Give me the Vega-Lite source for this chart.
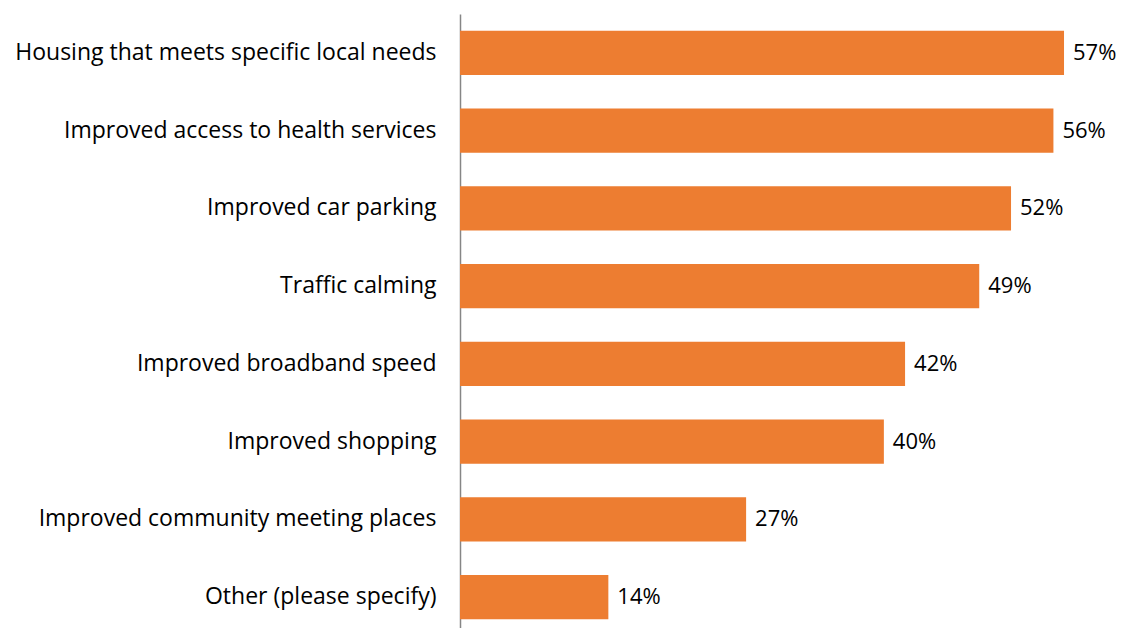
{
  "$schema": "https://vega.github.io/schema/vega-lite/v6.json",
  "autosize": {"type": "none"},
  "padding": {"left": 460, "top": 14, "right": 0, "bottom": 0},
  "width": 657,
  "height": 622,
  "background": "white",
  "data": {"values": [
    {"category": "Housing that meets specific local needs", "value": 0.57},
    {"category": "Improved access to health services", "value": 0.56},
    {"category": "Improved car parking", "value": 0.52},
    {"category": "Traffic calming", "value": 0.49},
    {"category": "Improved broadband speed", "value": 0.42},
    {"category": "Improved shopping", "value": 0.40},
    {"category": "Improved community meeting places", "value": 0.27},
    {"category": "Other (please specify)", "value": 0.14}
  ]},
  "config": {"view": {"stroke": null}, "font": "Open Sans"},
  "encoding": {
    "y": {"field": "category", "type": "nominal", "sort": null,
      "scale": {"paddingInner": 0.43, "paddingOuter": 0.215},
      "axis": {"title": null, "ticks": false, "domainColor": "#868686", "domainWidth": 1.5,
        "labelFontSize": 23, "labelColor": "#000000", "labelPadding": 24, "labelLimit": 460, "labelFont": "Open Sans"}},
    "x": {"field": "value", "type": "quantitative", "scale": {"domain": [0, 0.62], "nice": false}, "axis": null}
  },
  "layer": [
    {"mark": {"type": "bar", "color": "#ED7D31"}},
    {"mark": {"type": "text", "align": "left", "dx": 9, "fontSize": 22, "font": "Open Sans", "color": "#000000"},
     "encoding": {"text": {"field": "value", "type": "quantitative", "format": ".0%"}}}
  ]
}
